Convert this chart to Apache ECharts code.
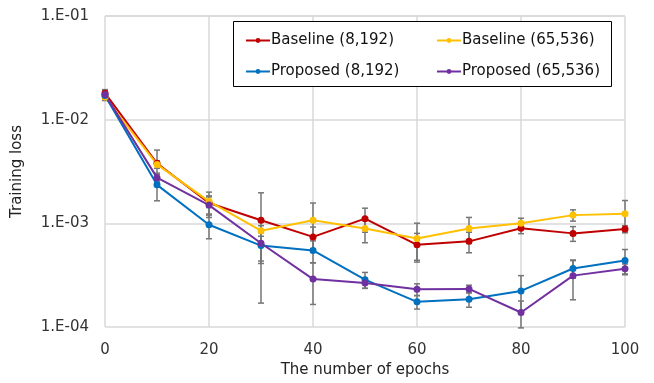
<!DOCTYPE html>
<html lang="en">
<head>
    <meta charset="UTF-8">
    <title>Training loss</title>
    <script src="https://cdn.jsdelivr.net/npm/echarts@6/dist/echarts.min.js"></script>
    <style>
        html, body { margin: 0; padding: 0; background: #fff; }
        #chart { width: 654px; height: 383px; }
    </style>
</head>
<body>
    <div id="chart"></div>

    <script>
        const epochs = [0, 10, 20, 30, 40, 50, 60, 70, 80, 90, 100];

        const baseline8k = [0.0180, 0.00379, 0.00157, 0.00107, 0.00074, 0.00111, 0.00062, 0.00067, 0.000895, 0.00080, 0.00088];
        const baseline65k = [0.0165, 0.00370, 0.00163, 0.00085, 0.00107, 0.00089, 0.000713, 0.00089, 0.00100, 0.00120, 0.00124];
        const proposed8k = [0.0171, 0.00235, 0.00097, 0.00061, 0.000547, 0.000286, 0.000175, 0.000185, 0.000223, 0.000367, 0.000439];
        const proposed65k = [0.0175, 0.00276, 0.00150, 0.000643, 0.00029, 0.000266, 0.000231, 0.000233, 0.000138, 0.000313, 0.000365];

        // error bar half-widths (linear)
        const baseline8kErr = [0.0015, 0.0013, 0.00043, 0.0009, 0.00018, 0.00029, 0.00018, 0.00015, 0.0001, 0.00013, 0.00007];
        const baseline65kErr = [0.0012, 0.0003, 0.00021, 0.0001, 0.0005, 0.00024, 0.00029, 0.00025, 0.00012, 0.00015, 0.00042];
        const proposed8kErr = [0.0013, 0.0007, 0.00026, 0.0002, 0.00013, 0.00005, 0.000026, 0.00003, 0.00009, 0.00007, 0.00012];
        const proposed65kErr = [0.0015, 0.0002, 0.0003, 0.00021, 0.000125, 0.00003, 0.00003, 0.00002, 0.00004, 0.00013, 0.00004];

        const yTicks = [0.1, 0.01, 0.001, 0.0001];

        const names = ['Baseline (8,192)', 'Baseline (65,536)', 'Proposed (8,192)', 'Proposed (65,536)'];
        const colors = ['#C00000', '#FFC000', '#0070C0', '#7030A0'];
        const values = [baseline8k, baseline65k, proposed8k, proposed65k];
        const errors = [baseline8kErr, baseline65kErr, proposed8kErr, proposed65kErr];

        const font = 'DejaVu Sans';
        const chart = echarts.init(document.getElementById('chart'));

        const errData = [];
        values.forEach((vals, s) => {
            vals.forEach((v, i) => {
                errData.push([epochs[i], v - errors[s][i], v + errors[s][i]]);
            });
        });

        function renderErr(params, api) {
            const lo = api.coord([api.value(0), api.value(1)]);
            const hi = api.coord([api.value(0), api.value(2)]);
            const w = 3;
            const style = { stroke: '#767676', lineWidth: 1.5 };
            return {
                type: 'group',
                children: [
                    { type: 'line', shape: { x1: lo[0], y1: lo[1], x2: hi[0], y2: hi[1] }, style },
                    { type: 'line', shape: { x1: lo[0] - w, y1: lo[1], x2: lo[0] + w, y2: lo[1] }, style },
                    { type: 'line', shape: { x1: hi[0] - w, y1: hi[1], x2: hi[0] + w, y2: hi[1] }, style }
                ]
            };
        }

        const lineSeries = names.map((name, s) => ({
            name: name,
            type: 'line',
            data: values[s].map((v, i) => [epochs[i], v]),
            color: colors[s],
            symbol: 'circle',
            symbolSize: 7,
            lineStyle: { width: 2 },
            z: 3
        }));

        const legendCommon = {
            orient: 'vertical',
            top: 28,
            z: 8,
            itemWidth: 24,
            itemHeight: 6,
            itemGap: 16,
            textStyle: { fontFamily: font, fontSize: 15, color: '#111', padding: [0, 0, 0, -4] }
        };

        chart.setOption({
            animation: false,
            grid: { left: 105, right: 29, top: 16, bottom: 55 },
            graphic: [{
                type: 'rect',
                shape: { x: 233.5, y: 21.5, width: 378, height: 65 },
                style: { fill: '#fff', stroke: '#000', lineWidth: 1 },
                z: 1
            }],
            legend: [
                Object.assign({ left: 240, data: [names[0], names[2]] }, legendCommon),
                Object.assign({ left: 431, data: [names[1], names[3]] }, legendCommon)
            ],
            xAxis: {
                type: 'value',
                min: 0,
                max: 100,
                interval: 20,
                name: 'The number of epochs',
                nameLocation: 'middle',
                nameGap: 36,
                nameTextStyle: { fontFamily: font, fontSize: 15, color: '#222' },
                axisLine: { show: false },
                axisTick: { show: false },
                axisLabel: { fontFamily: font, fontSize: 15, color: '#333', margin: 16 },
                splitLine: { lineStyle: { color: '#d9d9d9', width: 1.5 } }
            },
            yAxis: {
                type: 'log',
                min: yTicks[3],
                max: yTicks[0],
                logBase: 10,
                name: 'Training loss',
                nameLocation: 'middle',
                nameGap: 80,
                nameTextStyle: { fontFamily: font, fontSize: 15, color: '#222' },
                axisLine: { show: false },
                axisTick: { show: false },
                axisLabel: {
                    fontFamily: font, fontSize: 15, color: '#333', margin: 16,
                    formatter: v => '1.E-' + String(-Math.round(Math.log10(v))).padStart(2, '0')
                },
                splitLine: { lineStyle: { color: '#d9d9d9', width: 1.5 } }
            },
            series: [{
                type: 'custom',
                renderItem: renderErr,
                data: errData,
                encode: { x: 0, y: [1, 2] },
                silent: true,
                z: 2
            }].concat(lineSeries)
        });
    </script>
</body>
</html>
